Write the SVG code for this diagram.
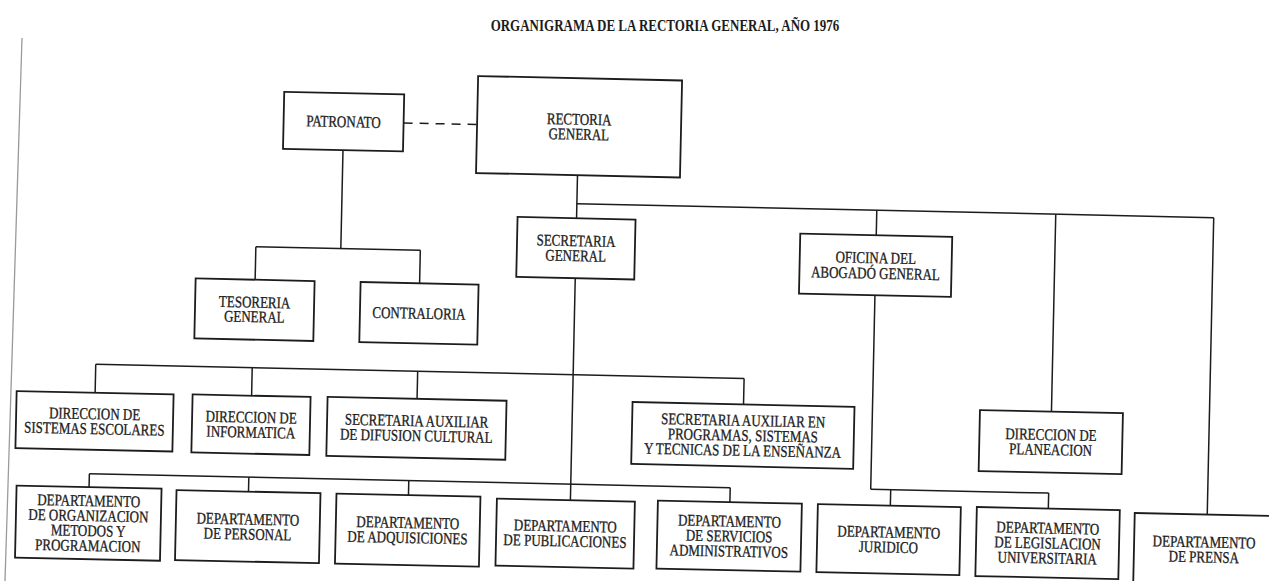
<svg xmlns="http://www.w3.org/2000/svg" width="1269" height="581" viewBox="0 0 1269 581">
  <style>
    .box rect { fill: #ffffff; stroke: #1c1c1c; stroke-width: 1.8; }
    .box text, .title {
      font-family: "Liberation Serif", "Times New Roman", serif; fill: #1c1c1c; text-anchor: middle;
      transform-box: fill-box; transform-origin: center; transform: scaleY(1.25);
    }
    .box text { font-size: 13px; stroke: #1c1c1c; stroke-width: 0.25; }
    .title { font-size: 13px; font-weight: bold; }
    .conn line { stroke: #1c1c1c; stroke-width: 1.5; fill: none; }
    .conn .dashed { stroke-dasharray: 9 7; }
  </style>

  <rect width="1269" height="581" fill="#ffffff"/>

  <!-- page edge -->
  <line x1="22" y1="38" x2="5" y2="581" stroke="#9a9a9a" stroke-width="1.3"/>

  <text class="title" x="665" y="30">ORGANIGRAMA DE LA RECTORIA GENERAL, AÑO 1976</text>

  <g id="chart" transform="rotate(1.25 634 290)">
    <g id="connectors" class="conn">
      <!-- Patronato link (dashed) -->
      <line class="dashed" x1="400" y1="128" x2="473.5" y2="128"/>
      <!-- Patronato branch -->
      <line x1="340" y1="156.5" x2="340" y2="255"/>
      <line x1="255" y1="255" x2="419.5" y2="255"/>
      <line x1="255" y1="255" x2="255" y2="288"/>
      <line x1="419.5" y1="255" x2="419.5" y2="288"/>
      <!-- main trunk -->
      <line x1="575" y1="176.5" x2="575" y2="501.5"/>
      <line x1="575" y1="205" x2="1212" y2="205"/>
      <line x1="875" y1="205" x2="875" y2="230"/>
      <line x1="1054" y1="205" x2="1054" y2="402.5"/>
      <line x1="1212" y1="205" x2="1212" y2="502"/>
      <!-- secretaria: direcciones -->
      <line x1="97.5" y1="376" x2="746" y2="376"/>
      <line x1="97.5" y1="376" x2="97.5" y2="404.5"/>
      <line x1="254" y1="376" x2="254" y2="404"/>
      <line x1="419.5" y1="376" x2="419.5" y2="403.5"/>
      <line x1="746" y1="376" x2="746" y2="402"/>
      <!-- secretaria: departamentos -->
      <line x1="93.5" y1="485.5" x2="734.5" y2="485.5"/>
      <line x1="93.5" y1="485.5" x2="93.5" y2="499"/>
      <line x1="253" y1="485.5" x2="253" y2="500"/>
      <line x1="413" y1="485.5" x2="413" y2="500"/>
      <line x1="734.5" y1="485.5" x2="734.5" y2="500"/>
      <!-- abogado general -->
      <line x1="875" y1="290" x2="875" y2="484"/>
      <line x1="875" y1="484" x2="1053" y2="484"/>
      <line x1="895" y1="484" x2="895" y2="500"/>
      <line x1="1053" y1="484" x2="1053" y2="499.5"/>
    </g>

    <g id="patronato" class="box">
      <rect x="280" y="99.5" width="120" height="57"/>
      <text x="340" y="132.3">PATRONATO</text>
    </g>
    <g id="rectoria-general" class="box">
      <rect x="473.5" y="79.5" width="204" height="97"/>
      <text x="575.5" y="124.8">RECTORIA</text>
      <text x="575.5" y="139.8">GENERAL</text>
    </g>
    <g id="secretaria-general" class="box">
      <rect x="516" y="219.5" width="118" height="60"/>
      <text x="575" y="246.3">SECRETARIA</text>
      <text x="575" y="261.3">GENERAL</text>
    </g>
    <g id="tesoreria-general" class="box">
      <rect x="195.5" y="288" width="119" height="60"/>
      <text x="255" y="314.8">TESORERIA</text>
      <text x="255" y="329.3">GENERAL</text>
    </g>
    <g id="contraloria" class="box">
      <rect x="360.5" y="288" width="118" height="60"/>
      <text x="419.5" y="322.3">CONTRALORIA</text>
    </g>
    <g id="oficina-abogado" class="box">
      <rect x="799" y="230" width="152" height="60"/>
      <text x="875" y="256.8">OFICINA DEL</text>
      <text x="875" y="272.3">ABOGADÓ GENERAL</text>
    </g>

    <g id="dir-sistemas-escolares" class="box">
      <rect x="19" y="404.5" width="157" height="57"/>
      <text x="97.5" y="429.8">DIRECCION DE</text>
      <text x="97.5" y="444.8">SISTEMAS ESCOLARES</text>
    </g>
    <g id="dir-informatica" class="box">
      <rect x="195" y="404" width="118" height="58"/>
      <text x="254" y="429.8">DIRECCION DE</text>
      <text x="254" y="444.8">INFORMATICA</text>
    </g>
    <g id="sec-aux-difusion" class="box">
      <rect x="330" y="403.5" width="179" height="59"/>
      <text x="419.5" y="429.8">SECRETARIA AUXILIAR</text>
      <text x="419.5" y="444.8">DE DIFUSION CULTURAL</text>
    </g>
    <g id="sec-aux-programas" class="box">
      <rect x="635" y="402" width="222" height="62"/>
      <text x="746" y="422.3">SECRETARIA AUXILIAR EN</text>
      <text x="746" y="437.3">PROGRAMAS, SISTEMAS</text>
      <text x="746" y="452.3">Y TECNICAS DE LA ENSEÑANZA</text>
    </g>
    <g id="dir-planeacion" class="box">
      <rect x="982.5" y="402.5" width="143" height="61"/>
      <text x="1054" y="429.8">DIRECCION DE</text>
      <text x="1054" y="444.8">PLANEACION</text>
    </g>

    <g id="dep-organizacion" class="box">
      <rect x="21" y="499" width="145" height="72"/>
      <text x="93.5" y="516.8">DEPARTAMENTO</text>
      <text x="93.5" y="531.8">DE ORGANIZACION</text>
      <text x="93.5" y="546.8">METODOS Y</text>
      <text x="93.5" y="561.8">PROGRAMACION</text>
    </g>
    <g id="dep-personal" class="box">
      <rect x="181" y="500" width="144" height="70"/>
      <text x="253" y="531.8">DEPARTAMENTO</text>
      <text x="253" y="546.8">DE PERSONAL</text>
    </g>
    <g id="dep-adquisiciones" class="box">
      <rect x="341" y="500" width="144" height="70"/>
      <text x="413" y="531.8">DEPARTAMENTO</text>
      <text x="413" y="546.8">DE ADQUISICIONES</text>
    </g>
    <g id="dep-publicaciones" class="box">
      <rect x="501.5" y="501.5" width="138" height="67"/>
      <text x="570.5" y="531.8">DEPARTAMENTO</text>
      <text x="570.5" y="546.8">DE PUBLICACIONES</text>
    </g>
    <g id="dep-servicios" class="box">
      <rect x="662.5" y="500" width="144" height="68"/>
      <text x="734.5" y="523.3">DEPARTAMENTO</text>
      <text x="734.5" y="538.3">DE SERVICIOS</text>
      <text x="734.5" y="553.3">ADMINISTRATIVOS</text>
    </g>
    <g id="dep-juridico" class="box">
      <rect x="822.5" y="500" width="143" height="68"/>
      <text x="894" y="530.8">DEPARTAMENTO</text>
      <text x="894" y="545.8">JURIDICO</text>
    </g>
    <g id="dep-legislacion" class="box">
      <rect x="981.5" y="499.5" width="143" height="69"/>
      <text x="1053" y="523.3">DEPARTAMENTO</text>
      <text x="1053" y="538.3">DE LEGISLACION</text>
      <text x="1053" y="553.3">UNIVERSITARIA</text>
    </g>
    <g id="dep-prensa" class="box">
      <rect x="1139.5" y="502" width="140" height="70"/>
      <text x="1209.5" y="533.8">DEPARTAMENTO</text>
      <text x="1209.5" y="548.8">DE PRENSA</text>
    </g>
  </g>
</svg>
